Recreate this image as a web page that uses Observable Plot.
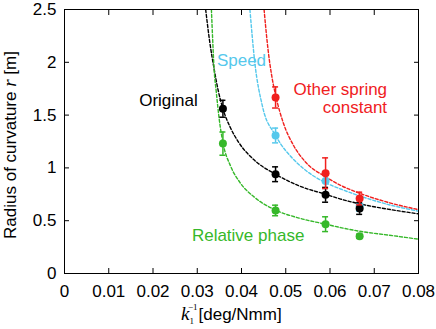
<!DOCTYPE html>
<html>
<head>
<meta charset="utf-8">
<script src="https://cdn.jsdelivr.net/npm/d3@7"></script>
<script src="https://cdn.jsdelivr.net/npm/@observablehq/plot@0.6"></script>
<style>
  html, body { margin: 0; padding: 0; background: #fff; }
  #chart svg { display: block; }
</style>
</head>
<body>
<div id="chart"></div>
<script>
// ---- data ----
const xTicks = [0, 0.01, 0.02, 0.03, 0.04, 0.05, 0.06, 0.07, 0.08];
const xTickLabels = ["0", "0.01", "0.02", "0.03", "0.04", "0.05", "0.06", "0.07", "0.08"];
const yTicks = [0, 0.5, 1, 1.5, 2, 2.5];
const yTickLabels = ["0", "0.5", "1", "1.5", "2", "2.5"];

const seriesNames = ["Original", "Speed", "Other spring constant", "Relative phase"];

// measured points (x = 1/k1, r = radius, e = error half-length)
const originalX = [0.0358, 0.0477, 0.0590, 0.0667];
const originalR = [1.56, 0.94, 0.745, 0.615];
const originalE = [0.08, 0.07, 0.07, 0.055];

const speedX = [0.0477, 0.0590, 0.0667];
const speedR = [1.307, 0.875, 0.64];
const speedE = [0.07, 0.07, 0.05];

const springX = [0.0477, 0.0590, 0.0667];
const springR = [1.667, 0.95, 0.71];
const springE = [0.10, 0.145, 0.06];

const phaseX = [0.0358, 0.0477, 0.0590, 0.0667];
const phaseR = [1.23, 0.597, 0.467, 0.353];
const phaseE = [0.11, 0.05, 0.07, 0.02];

// fitted (dashed) curves
const originalFitX = [0.0319, 0.0328, 0.0338, 0.0347, 0.0358, 0.0375, 0.0394, 0.043, 0.0477, 0.053, 0.059, 0.0624, 0.0667, 0.073, 0.08];
const originalFitR = [2.5, 2.2, 1.94, 1.74, 1.56, 1.38, 1.24, 1.07, 0.94, 0.83, 0.75, 0.705, 0.66, 0.61, 0.565];

const speedFitX = [0.0419, 0.043, 0.0447, 0.0477, 0.0488, 0.0511, 0.0541, 0.059, 0.0624, 0.0667, 0.073, 0.08];
const speedFitR = [2.5, 2.0, 1.59, 1.307, 1.23, 1.11, 0.99, 0.86, 0.80, 0.735, 0.655, 0.59];

const springFitX = [0.0451, 0.046, 0.0468, 0.0477, 0.0495, 0.0518, 0.0545, 0.059, 0.0624, 0.0667, 0.073, 0.08];
const springFitR = [2.5, 2.12, 1.88, 1.69, 1.42, 1.21, 1.054, 0.915, 0.835, 0.76, 0.675, 0.605];

const phaseFitX = [0.0332, 0.0335, 0.0338, 0.0343, 0.035, 0.0358, 0.0375, 0.0396, 0.043, 0.0477, 0.053, 0.059, 0.0624, 0.0667, 0.073, 0.08];
const phaseFitR = [2.5, 2.2, 1.94, 1.72, 1.45, 1.24, 1.02, 0.865, 0.72, 0.60, 0.525, 0.467, 0.435, 0.40, 0.365, 0.325];

// ---- presentation ----
const colors = {
  "Original": "#000000",
  "Speed": "#55c8ec",
  "Other spring constant": "#f0201e",
  "Relative phase": "#36b82a"
};

const pts = (name, X, R, E) => X.map((x, i) => ({name, x, r: R[i], e: E[i]}));
const fit = (name, X, R) => X.map((x, i) => ({name, x, r: R[i]}));

const points = {
  "Original": pts("Original", originalX, originalR, originalE),
  "Speed": pts("Speed", speedX, speedR, speedE),
  "Other spring constant": pts("Other spring constant", springX, springR, springE),
  "Relative phase": pts("Relative phase", phaseX, phaseR, phaseE)
};
const fits = {
  "Original": fit("Original", originalFitX, originalFitR),
  "Speed": fit("Speed", speedFitX, speedFitR),
  "Other spring constant": fit("Other spring constant", springFitX, springFitR),
  "Relative phase": fit("Relative phase", phaseFitX, phaseFitR)
};

// label annotations (data coordinates)
const annotations = [
  {text: "Original", x: 0.0235, y: 1.64, anchor: "middle", name: "Original"},
  {text: "Speed", x: 0.0400, y: 2.02, anchor: "middle", name: "Speed"},
  {text: "Other spring\nconstant", x: 0.0729, y: 1.66, anchor: "end", name: "Other spring constant"},
  {text: "Relative phase", x: 0.0415, y: 0.36, anchor: "middle", name: "Relative phase"}
];

const FONT = "Liberation Sans, Arial, Helvetica, sans-serif";
const SERIF = "Liberation Serif, Times New Roman, serif";
const drawOrder = ["Relative phase", "Speed", "Original", "Other spring constant"];

const marks = [];
// fitted dashed curves
for (const n of seriesNames) {
  marks.push(Plot.line(fits[n], {
    x: "x", y: "r", stroke: colors[n], strokeWidth: 1.4,
    strokeDasharray: "3,2", curve: "monotone-x", clip: true
  }));
}
// error bars + dots
for (const n of drawOrder) {
  const d = points[n];
  marks.push(Plot.ruleX(d, {x: "x", y1: d => d.r - d.e, y2: d => d.r + d.e, stroke: colors[n], strokeWidth: 1.5}));
  marks.push(Plot.ruleY(d, {y: d => d.r + d.e, x1: "x", x2: "x", insetLeft: -3, insetRight: -3, stroke: colors[n], strokeWidth: 1.5}));
  marks.push(Plot.ruleY(d, {y: d => d.r - d.e, x1: "x", x2: "x", insetLeft: -3, insetRight: -3, stroke: colors[n], strokeWidth: 1.5}));
  marks.push(Plot.dot(d, {x: "x", y: "r", r: 4, fill: colors[n], stroke: null}));
}
// annotations
for (const a of annotations) {
  marks.push(Plot.text([a], {
    x: "x", y: "y", text: "text", textAnchor: a.anchor, fill: colors[a.name],
    fontSize: 17, lineHeight: 1.03, fontFamily: FONT
  }));
}
// frame and inward ticks (all four sides)
marks.push(Plot.frame({stroke: "#000", strokeWidth: 1}));
marks.push(Plot.axisX(xTicks, {anchor: "bottom", tickSize: -5, tickFormat: () => "", label: null, stroke: "#000"}));
marks.push(Plot.axisX(xTicks, {anchor: "top", tickSize: -5, tickFormat: () => "", label: null, stroke: "#000"}));
marks.push(Plot.axisY(yTicks, {anchor: "left", tickSize: -5, tickFormat: () => "", label: null, stroke: "#000"}));
marks.push(Plot.axisY(yTicks, {anchor: "right", tickSize: -5, tickFormat: () => "", label: null, stroke: "#000"}));
// tick labels
marks.push(Plot.axisX(xTicks, {anchor: "bottom", tickSize: 0, tickPadding: 11, label: null,
  tickFormat: d => xTickLabels[xTicks.indexOf(d)], fontSize: 17, fill: "#000"}));
marks.push(Plot.axisY(yTicks, {anchor: "left", tickSize: 0, tickPadding: 8, label: null,
  tickFormat: d => yTickLabels[yTicks.indexOf(d)], fontSize: 17, fill: "#000"}));

const chart = Plot.plot({
  width: 436,
  height: 329,
  marginLeft: 64,
  marginRight: 18,
  marginTop: 9,
  marginBottom: 56,
  style: {fontFamily: FONT, fontSize: "17px", background: "#fff", color: "#000", overflow: "visible"},
  x: {domain: [0, 0.08], axis: null},
  y: {domain: [0, 2.5], axis: null},
  marks
});

document.getElementById("chart").appendChild(chart);

// axis titles with italic symbols, sub/superscripts
const svg = d3.select(chart);
const xl = svg.append("g").attr("font-size", 17).attr("fill", "#000").attr("text-anchor", "start");
xl.append("text").attr("x", 181).attr("y", 320).attr("text-anchor", "start")
  .attr("font-family", SERIF).attr("font-style", "italic")
  .attr("font-size", 19).text("k");
xl.append("text").attr("x", 189.5).attr("y", 324).attr("text-anchor", "start")
  .attr("font-family", SERIF).attr("font-size", 9).text("1");
xl.append("text").attr("x", 188).attr("y", 310).attr("text-anchor", "start")
  .attr("font-family", SERIF).attr("font-size", 9).text("\u22121");
xl.append("text").attr("x", 198.5).attr("y", 320).attr("text-anchor", "start")
  .attr("font-family", FONT).text("[deg/Nmm]");

const yl = svg.append("text")
  .attr("transform", "translate(15.5,145) rotate(-90)")
  .attr("text-anchor", "middle").attr("font-size", 17).attr("font-family", FONT).attr("fill", "#000");
yl.append("tspan").text("Radius of curvature ");
yl.append("tspan").attr("font-family", SERIF).attr("font-style", "italic").attr("font-size", 19).text("r");
yl.append("tspan").text(" [m]");
</script>
</body>
</html>
